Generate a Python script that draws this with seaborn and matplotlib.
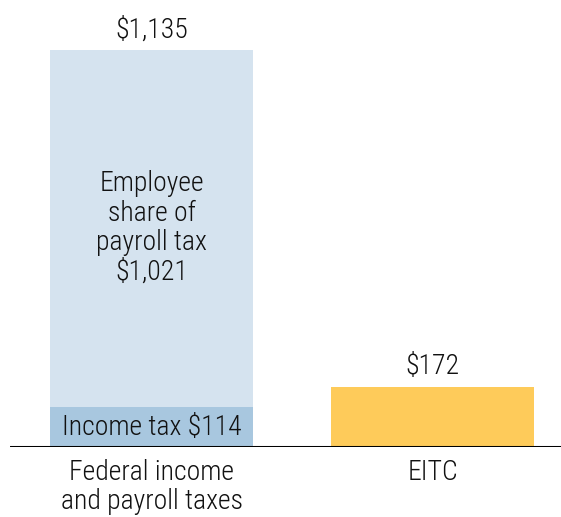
import matplotlib
matplotlib.use("Agg")
import matplotlib.pyplot as plt
from matplotlib import font_manager
import seaborn as sns
import pandas as pd

# data
categories = ["Federal income\nand payroll taxes", "EITC"]
totals = [1135, 172]
income_tax = [114, 0]
payroll_share = 1021

light_blue = "#d5e3ef"
dark_blue = "#a8c7df"
yellow = "#fecb5a"

sns.set_theme(style="white")

# a narrow sans is closest to the original; fall back to DejaVu if none is there
installed = {f.name for f in font_manager.fontManager.ttflist}
narrow = [n for n in ["Roboto Condensed", "Liberation Sans Narrow", "Open Sans Condensed",
                      "Archivo Narrow", "PT Sans Narrow", "Fira Sans Condensed"] if n in installed]
if narrow:
    plt.rcParams["font.family"] = [narrow[0], "DejaVu Sans"]
    FS = 20
else:
    plt.rcParams["font.family"] = ["DejaVu Sans"]
    FS = 16
plt.rcParams["font.weight"] = "light"
TXT = "#111111"

fig = plt.figure(figsize=(5.61, 5.17), dpi=100)
ax = fig.add_axes([10 / 561, 70 / 517, 551 / 561, 447 / 517])

df = pd.DataFrame({"cat": categories, "total": totals, "income": income_tax})
sns.barplot(data=df, x="cat", y="total", hue="cat", palette=[light_blue, yellow],
            width=0.72, legend=False, ax=ax, saturation=1, linewidth=0)
sns.barplot(data=df, x="cat", y="income", color=dark_blue,
            width=0.72, ax=ax, saturation=1, linewidth=0)

ax.set_xlim(-0.504, 1.457)
ax.set_ylim(0, 1278)
ax.axhline(0, color="black", lw=2.2)
for s in ax.spines.values():
    s.set_visible(False)
ax.set_yticks([])
ax.set_xlabel("")
ax.set_ylabel("")
ax.tick_params(axis="x", length=0, pad=9, labelsize=FS, colors=TXT)
ax.set_xticks(range(len(categories)))
ax.set_xticklabels(categories, linespacing=1.05)

# value labels
ax.text(0, totals[0] + 57, f"${totals[0]:,}", ha="center", va="center", fontsize=FS, color=TXT)
ax.text(1, totals[1] + 57, f"${totals[1]:,}", ha="center", va="center", fontsize=FS, color=TXT)
ax.text(0, 626, f"Employee\nshare of\npayroll tax\n${payroll_share:,}",
        ha="center", va="center", fontsize=FS, linespacing=1.12, color=TXT)
ax.text(0, income_tax[0] / 2, f"Income tax ${income_tax[0]}",
        ha="center", va="center", fontsize=FS, color=TXT)

fig.savefig("out.png", dpi=100)
